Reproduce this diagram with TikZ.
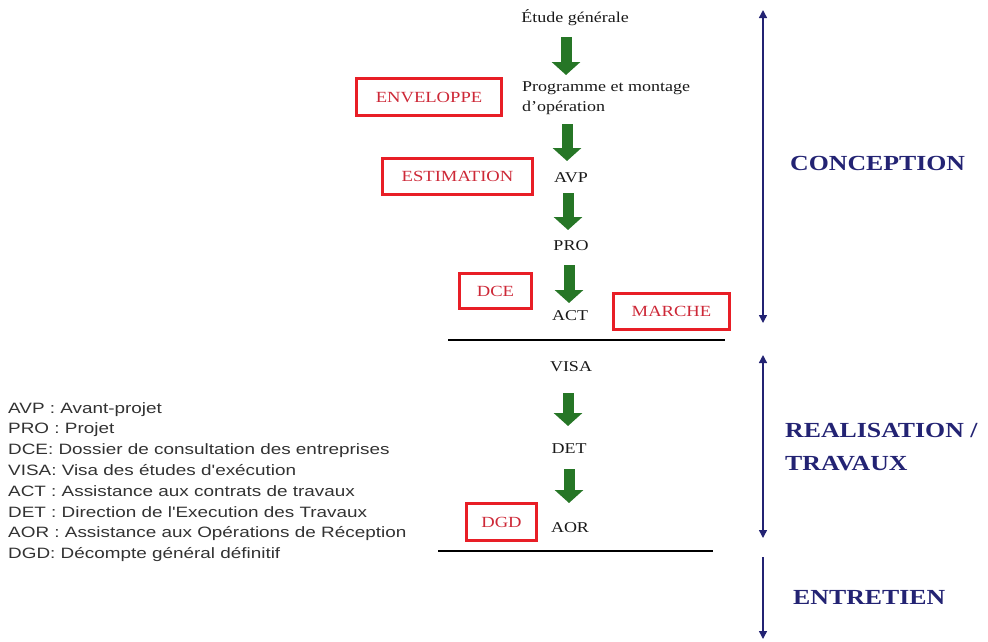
\documentclass[tikz,border=0pt]{standalone}
\usepackage{fontspec}
\setmainfont[FakeStretch=1.2]{Liberation Serif}
\newfontfamily\legendfont[FakeStretch=1.26]{Liberation Sans}
\usetikzlibrary{arrows.meta}
\definecolor{navy}{RGB}{35,35,115}
\definecolor{boxred}{RGB}{232,30,38}
\definecolor{txtred}{RGB}{205,40,55}
\definecolor{garrowc}{RGB}{38,118,38}
\definecolor{legendgray}{RGB}{50,50,50}
\begin{document}
\begin{tikzpicture}[x=1pt,y=-1pt,
  flow/.style={font=\fontsize{15}{18}\selectfont, inner sep=0pt, text=black!90},
  redbox/.style={draw=boxred, line width=3pt, text=txtred, font=\fontsize{15.5}{18}\selectfont,
     minimum width=#1, minimum height=36pt, inner sep=0pt},
  garrow/.style={draw=garrowc, line width=11pt, -{Triangle[width=28pt,length=13pt]}},
  phase/.style={font=\bfseries\fontsize{21.5}{33}\selectfont, text=navy, align=left, anchor=west, inner sep=0pt},
  spanarrow/.style={draw=navy, line width=1.4pt},
  sepline/.style={draw=black, line width=1.8pt}
]
\useasboundingbox (0,0) rectangle (988,641);

% flow nodes
\node[flow] (etude) at (575,18) {Étude générale};
\node[flow, anchor=west, align=left, font=\fontsize{15}{20}\selectfont] (prog) at (522,98) {Programme et montage\\d'opération};
\node[flow] (avp) at (571,178) {AVP};
\node[flow] (pro) at (571,246) {PRO};
\node[flow] (act) at (570,316) {ACT};
\node[flow] (visa) at (571,367) {VISA};
\node[flow] (det) at (569,449) {DET};
\node[flow] (aor) at (570,528) {AOR};

% green arrows
\draw[garrow] (etude) ++(-9,19) -- ++(0,38);
\draw[garrow] (prog.west) ++(45,26) -- ++(0,37);
\draw[garrow] (avp) ++(-3,15) -- ++(0,37);
\draw[garrow] (pro) ++(-2,19) -- ++(0,38);
\draw[garrow] (visa) ++(-3,26) -- ++(0,33);
\draw[garrow] (det) ++(0,20) -- ++(0,34);

% red boxes
\node[redbox=145pt, minimum height=37pt] (env) at (429,97) {ENVELOPPE};
\node[redbox=150pt] (est) at (457.5,176.5) {ESTIMATION};
\node[redbox=72pt, minimum height=35pt] (dce) at (495.5,291) {DCE};
\node[redbox=116pt] (mar) at (671.5,311.5) {MARCHE};
\node[redbox=70pt, minimum height=37pt] (dgd) at (501.5,522) {DGD};

% separator lines
\coordinate (l1a) at (448,340);
\coordinate (l1b) at (725,340);
\coordinate (l2a) at (438,551);
\coordinate (l2b) at (713,551);
\draw[sepline] (l1a) -- (l1b);
\draw[sepline] (l2a) -- (l2b);

% phase spans
\coordinate (c1) at (763,10);
\coordinate (c2) at (763,323);
\coordinate (r1) at (763,355);
\coordinate (r2) at (763,538);
\coordinate (e1) at (763,557);
\coordinate (e2) at (763,639);
\draw[spanarrow, {Triangle[width=8pt,length=8pt]}-{Triangle[width=8pt,length=8pt]}] (c1) -- (c2);
\draw[spanarrow, {Triangle[width=8pt,length=8pt]}-{Triangle[width=8pt,length=8pt]}] (r1) -- (r2);
\draw[spanarrow, -{Triangle[width=8pt,length=8pt]}] (e1) -- (e2);

\node[phase] (conc) at (790,163) {CONCEPTION};
\node[phase] (real) at (785,447) {REALISATION /\\TRAVAUX};
\node[phase] (entr) at (793,597) {ENTRETIEN};

% legend
\node[anchor=west, align=left, inner sep=0pt, text=legendgray,
      font=\legendfont\fontsize{15}{20.8}\selectfont] (legend) at (8,482)
 {AVP : Avant-projet\\
  PRO : Projet\\
  DCE: Dossier de consultation des entreprises\\
  VISA: Visa des études d'exécution\\
  ACT : Assistance aux contrats de travaux\\
  DET : Direction de l'Execution des Travaux\\
  AOR : Assistance aux Opérations de Réception\\
  DGD: Décompte général définitif};
\end{tikzpicture}
\end{document}
